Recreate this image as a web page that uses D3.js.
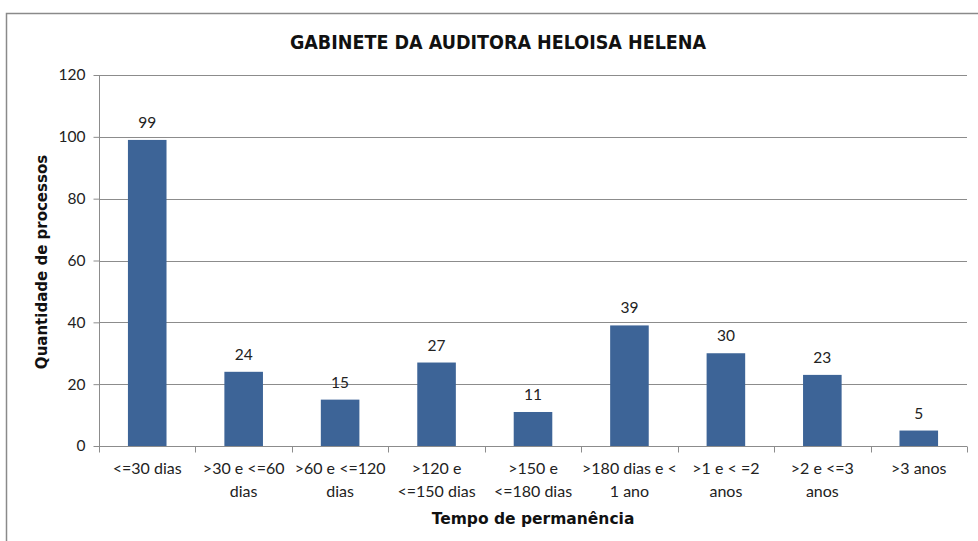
<!DOCTYPE html>
<html>
<head>
<meta charset="utf-8">
<script src="https://cdn.jsdelivr.net/npm/d3@7"></script>
<style>
  body { margin: 0; background: #fff; }
  svg { display: block; }
  .tick text { font-family: Lato, "Open Sans", sans-serif; fill: #222; }
</style>
</head>
<body>
<svg width="978" height="541"></svg>
<script>
// data
var categories = ['<=30 dias', '>30 e <=60|dias', '>60 e <=120|dias', '>120 e|<=150 dias',
                  '>150 e|<=180 dias', '>180 dias e <|1 ano', '>1 e < =2|anos', '>2 e <=3|anos', '>3 anos'];
var values = [99, 24, 15, 27, 11, 39, 30, 23, 5];
var yTicks = [0, 20, 40, 60, 80, 100, 120];

var W = 978, H = 541,
    pLeft = 99, pRight = 967, pTop = 75, pBottom = 446;
var svg = d3.select('svg');

// chart frame
svg.append('rect')
  .attr('x', 6.5).attr('y', 13.5)
  .attr('width', W).attr('height', H)
  .attr('fill', 'none').attr('stroke', '#8a8a8a').attr('stroke-width', 1.5);

var x = d3.scaleBand().domain(categories).range([pLeft, pRight]).paddingInner(0.6).paddingOuter(0.3);
var xb = d3.scaleBand().domain(categories).range([pLeft, pRight]);
var y = d3.scaleLinear().domain([0, 120]).range([pBottom, pTop]);

// gridlines
svg.append('g').selectAll('line').data(yTicks.filter(function(d) { return d > 0; }))
  .enter().append('line')
  .attr('x1', pLeft).attr('x2', pRight)
  .attr('y1', function(d) { return Math.round(y(d)) + 0.5; })
  .attr('y2', function(d) { return Math.round(y(d)) + 0.5; })
  .attr('stroke', '#8c8c8c').attr('stroke-width', 1);

// y axis
var yAxis = svg.append('g')
  .attr('transform', 'translate(' + (pLeft + 0.5) + ',0)')
  .call(d3.axisLeft(y).tickValues(yTicks).tickSize(6).tickPadding(8));
yAxis.selectAll('path, line').attr('stroke', '#8c8c8c');
yAxis.select('.domain').attr('d', 'M0,' + pTop + 'V' + pBottom);
yAxis.selectAll('text').attr('font-size', 15.5);

// bars
svg.append('g').selectAll('rect').data(values)
  .enter().append('rect')
  .attr('x', function(d, i) { return x(categories[i]); })
  .attr('width', x.bandwidth())
  .attr('y', function(d) { return y(d); })
  .attr('height', function(d) { return pBottom - y(d); })
  .attr('fill', '#3d6497');

// value labels
svg.append('g').selectAll('text').data(values)
  .enter().append('text')
  .attr('x', function(d, i) { return x(categories[i]) + x.bandwidth() / 2; })
  .attr('y', function(d) { return y(d) - 12; })
  .attr('text-anchor', 'middle')
  .attr('font-family', 'Lato, "Open Sans", sans-serif')
  .attr('font-size', 15.5).attr('fill', '#222')
  .text(function(d) { return d; });

// x axis (ticks at category boundaries)
var xAxis = svg.append('g').attr('transform', 'translate(0,' + (pBottom + 0.5) + ')');
xAxis.append('line').attr('x1', pLeft).attr('x2', pRight).attr('stroke', '#8c8c8c');
xAxis.selectAll('.bound').data(d3.range(categories.length + 1))
  .enter().append('line')
  .attr('x1', function(i) { return Math.round(pLeft + i * xb.step()) + 0.5; })
  .attr('x2', function(i) { return Math.round(pLeft + i * xb.step()) + 0.5; })
  .attr('y1', 0).attr('y2', 6).attr('stroke', '#8c8c8c');

var lab = xAxis.selectAll('.lab').data(categories)
  .enter().append('text')
  .attr('text-anchor', 'middle')
  .attr('font-family', 'Lato, "Open Sans", sans-serif')
  .attr('font-size', 16).attr('fill', '#222')
  .attr('transform', function(d) { return 'translate(' + (xb(d) + xb.bandwidth() / 2) + ',0)'; });
lab.selectAll('tspan').data(function(d) { return d.split('|'); })
  .enter().append('tspan')
  .attr('x', 0)
  .attr('y', function(d, i) { return 27 + i * 23; })
  .text(function(d) { return d; });

// titles
svg.append('text')
  .attr('x', 498).attr('y', 49)
  .attr('text-anchor', 'middle')
  .attr('font-family', '"DejaVu Sans Condensed", "DejaVu Sans", sans-serif')
  .attr('font-weight', 'bold').attr('font-size', 19.5).attr('fill', '#111')
  .text('GABINETE DA AUDITORA HELOISA HELENA');

svg.append('text')
  .attr('x', 533).attr('y', 524)
  .attr('text-anchor', 'middle')
  .attr('font-family', '"DejaVu Sans", sans-serif')
  .attr('font-weight', 'bold').attr('font-size', 15.5).attr('fill', '#111')
  .text('Tempo de permanência');

svg.append('text')
  .attr('transform', 'translate(47,262) rotate(-90)')
  .attr('text-anchor', 'middle')
  .attr('font-family', '"DejaVu Sans", sans-serif')
  .attr('font-weight', 'bold').attr('font-size', 15).attr('fill', '#111')
  .text('Quantidade de processos');
</script>
</body>
</html>
